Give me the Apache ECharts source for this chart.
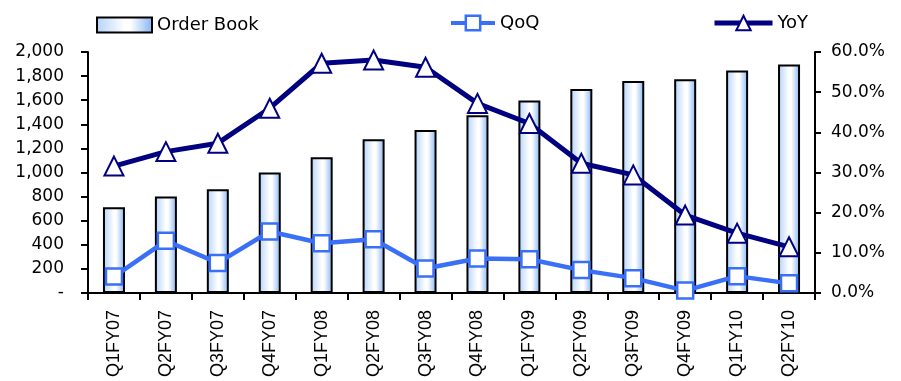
<!DOCTYPE html>
<html>
<head>
<meta charset="utf-8">
<script src="https://cdn.jsdelivr.net/npm/echarts@6/dist/echarts.min.js"></script>
<style>
html, body { margin: 0; padding: 0; background: #fff; }
#chart { width: 901px; height: 381px; }
</style>
</head>
<body>
<div id="chart"></div>
<script>
var quarters = ["Q1FY07", "Q2FY07", "Q3FY07", "Q4FY07", "Q1FY08", "Q2FY08", "Q3FY08",
  "Q4FY08", "Q1FY09", "Q2FY09", "Q3FY09", "Q4FY09", "Q1FY10", "Q2FY10"];
var orderBook = [712, 800, 862, 1000, 1127, 1275, 1353, 1476, 1597, 1692, 1760, 1774, 1847, 1897];
var qoq = [4.1, 13.0, 7.5, 15.3, 12.4, 13.4, 6.1, 8.6, 8.4, 5.7, 3.7, 0.6, 4.2, 2.4];
var yoy = [31.6, 35.2, 37.3, 46.0, 57.2, 58.0, 56.2, 47.2, 42.2, 32.3, 29.4, 19.4, 14.9, 11.5];

var font = "DejaVu Sans";
var barFill = new echarts.graphic.LinearGradient(0, 0, 1, 0, [
  { offset: 0, color: "#b3d2fa" },
  { offset: 0.5, color: "#ffffff" },
  { offset: 0.6, color: "#ffffff" },
  { offset: 1, color: "#84b3f3" }
]);
var legendText = { fontFamily: font, fontSize: 18, color: "#000" };

var chart = echarts.init(document.getElementById("chart"));
var option = {
  animation: false,
  grid: { left: 88, right: 86, top: 52, bottom: 88 },
  legend: [
    {
      data: [{ name: "Order Book", icon: "rect" }],
      left: 91, top: 11, itemWidth: 55, itemHeight: 15, itemGap: 6,
      itemStyle: { borderColor: "#000", borderWidth: 2 },
      textStyle: legendText
    },
    {
      data: ["QoQ"],
      left: 444, top: 9, itemWidth: 44, itemHeight: 18, itemGap: 4,
      lineStyle: { width: 4 },
      itemStyle: { color: "#ffffff", borderColor: "#3a6ff7", borderWidth: 2.5 },
      textStyle: legendText
    },
    {
      data: ["YoY"],
      left: 707, top: 9, itemWidth: 58, itemHeight: 18, itemGap: 4,
      lineStyle: { width: 5 },
      itemStyle: { color: "#ffffff", borderColor: "#000080", borderWidth: 2 },
      textStyle: legendText
    }
  ],
  xAxis: {
    type: "category",
    data: quarters,
    axisLine: { lineStyle: { color: "#000", width: 2 } },
    axisTick: { show: true, length: 7, lineStyle: { color: "#000", width: 2 } },
    axisLabel: {
      rotate: 90, margin: 17, color: "#000",
      fontFamily: "Liberation Sans", fontSize: 18
    }
  },
  yAxis: [
    {
      type: "value", min: 0, max: 2000, interval: 200,
      splitLine: { show: false },
      axisLine: { show: true, lineStyle: { color: "#000", width: 2 } },
      axisTick: { show: true, length: 7, lineStyle: { color: "#000", width: 2 } },
      axisLabel: {
        margin: 24, color: "#000", fontFamily: font, fontSize: 17,
        formatter: function (v) { return v === 0 ? "-" : v.toLocaleString("en-US"); }
      }
    },
    {
      type: "value", min: 0, max: 60, interval: 10,
      splitLine: { show: false },
      axisLine: { show: true, lineStyle: { color: "#000", width: 2 } },
      axisTick: { show: true, length: 6, lineStyle: { color: "#000", width: 2 } },
      axisLabel: {
        margin: 16, color: "#000", fontFamily: font, fontSize: 17,
        formatter: function (v) { return v.toFixed(1) + "%"; }
      }
    }
  ],
  series: [
    {
      name: "Order Book", type: "bar", yAxisIndex: 0,
      data: orderBook, barWidth: 22,
      itemStyle: { color: barFill, borderColor: "#000", borderWidth: 2 }
    },
    {
      name: "QoQ", type: "line", yAxisIndex: 1, data: qoq,
      symbol: "rect", symbolSize: 16,
      lineStyle: { color: "#3a6ff7", width: 4.5 },
      itemStyle: { color: "#ffffff", borderColor: "#3a6ff7", borderWidth: 2.5 },
      z: 3
    },
    {
      name: "YoY", type: "line", yAxisIndex: 1, data: yoy,
      symbol: "triangle", symbolSize: 19,
      lineStyle: { color: "#000080", width: 5 },
      itemStyle: { color: "#ffffff", borderColor: "#000080", borderWidth: 2 },
      z: 4
    }
  ]
};
chart.setOption(option);
</script>
</body>
</html>
